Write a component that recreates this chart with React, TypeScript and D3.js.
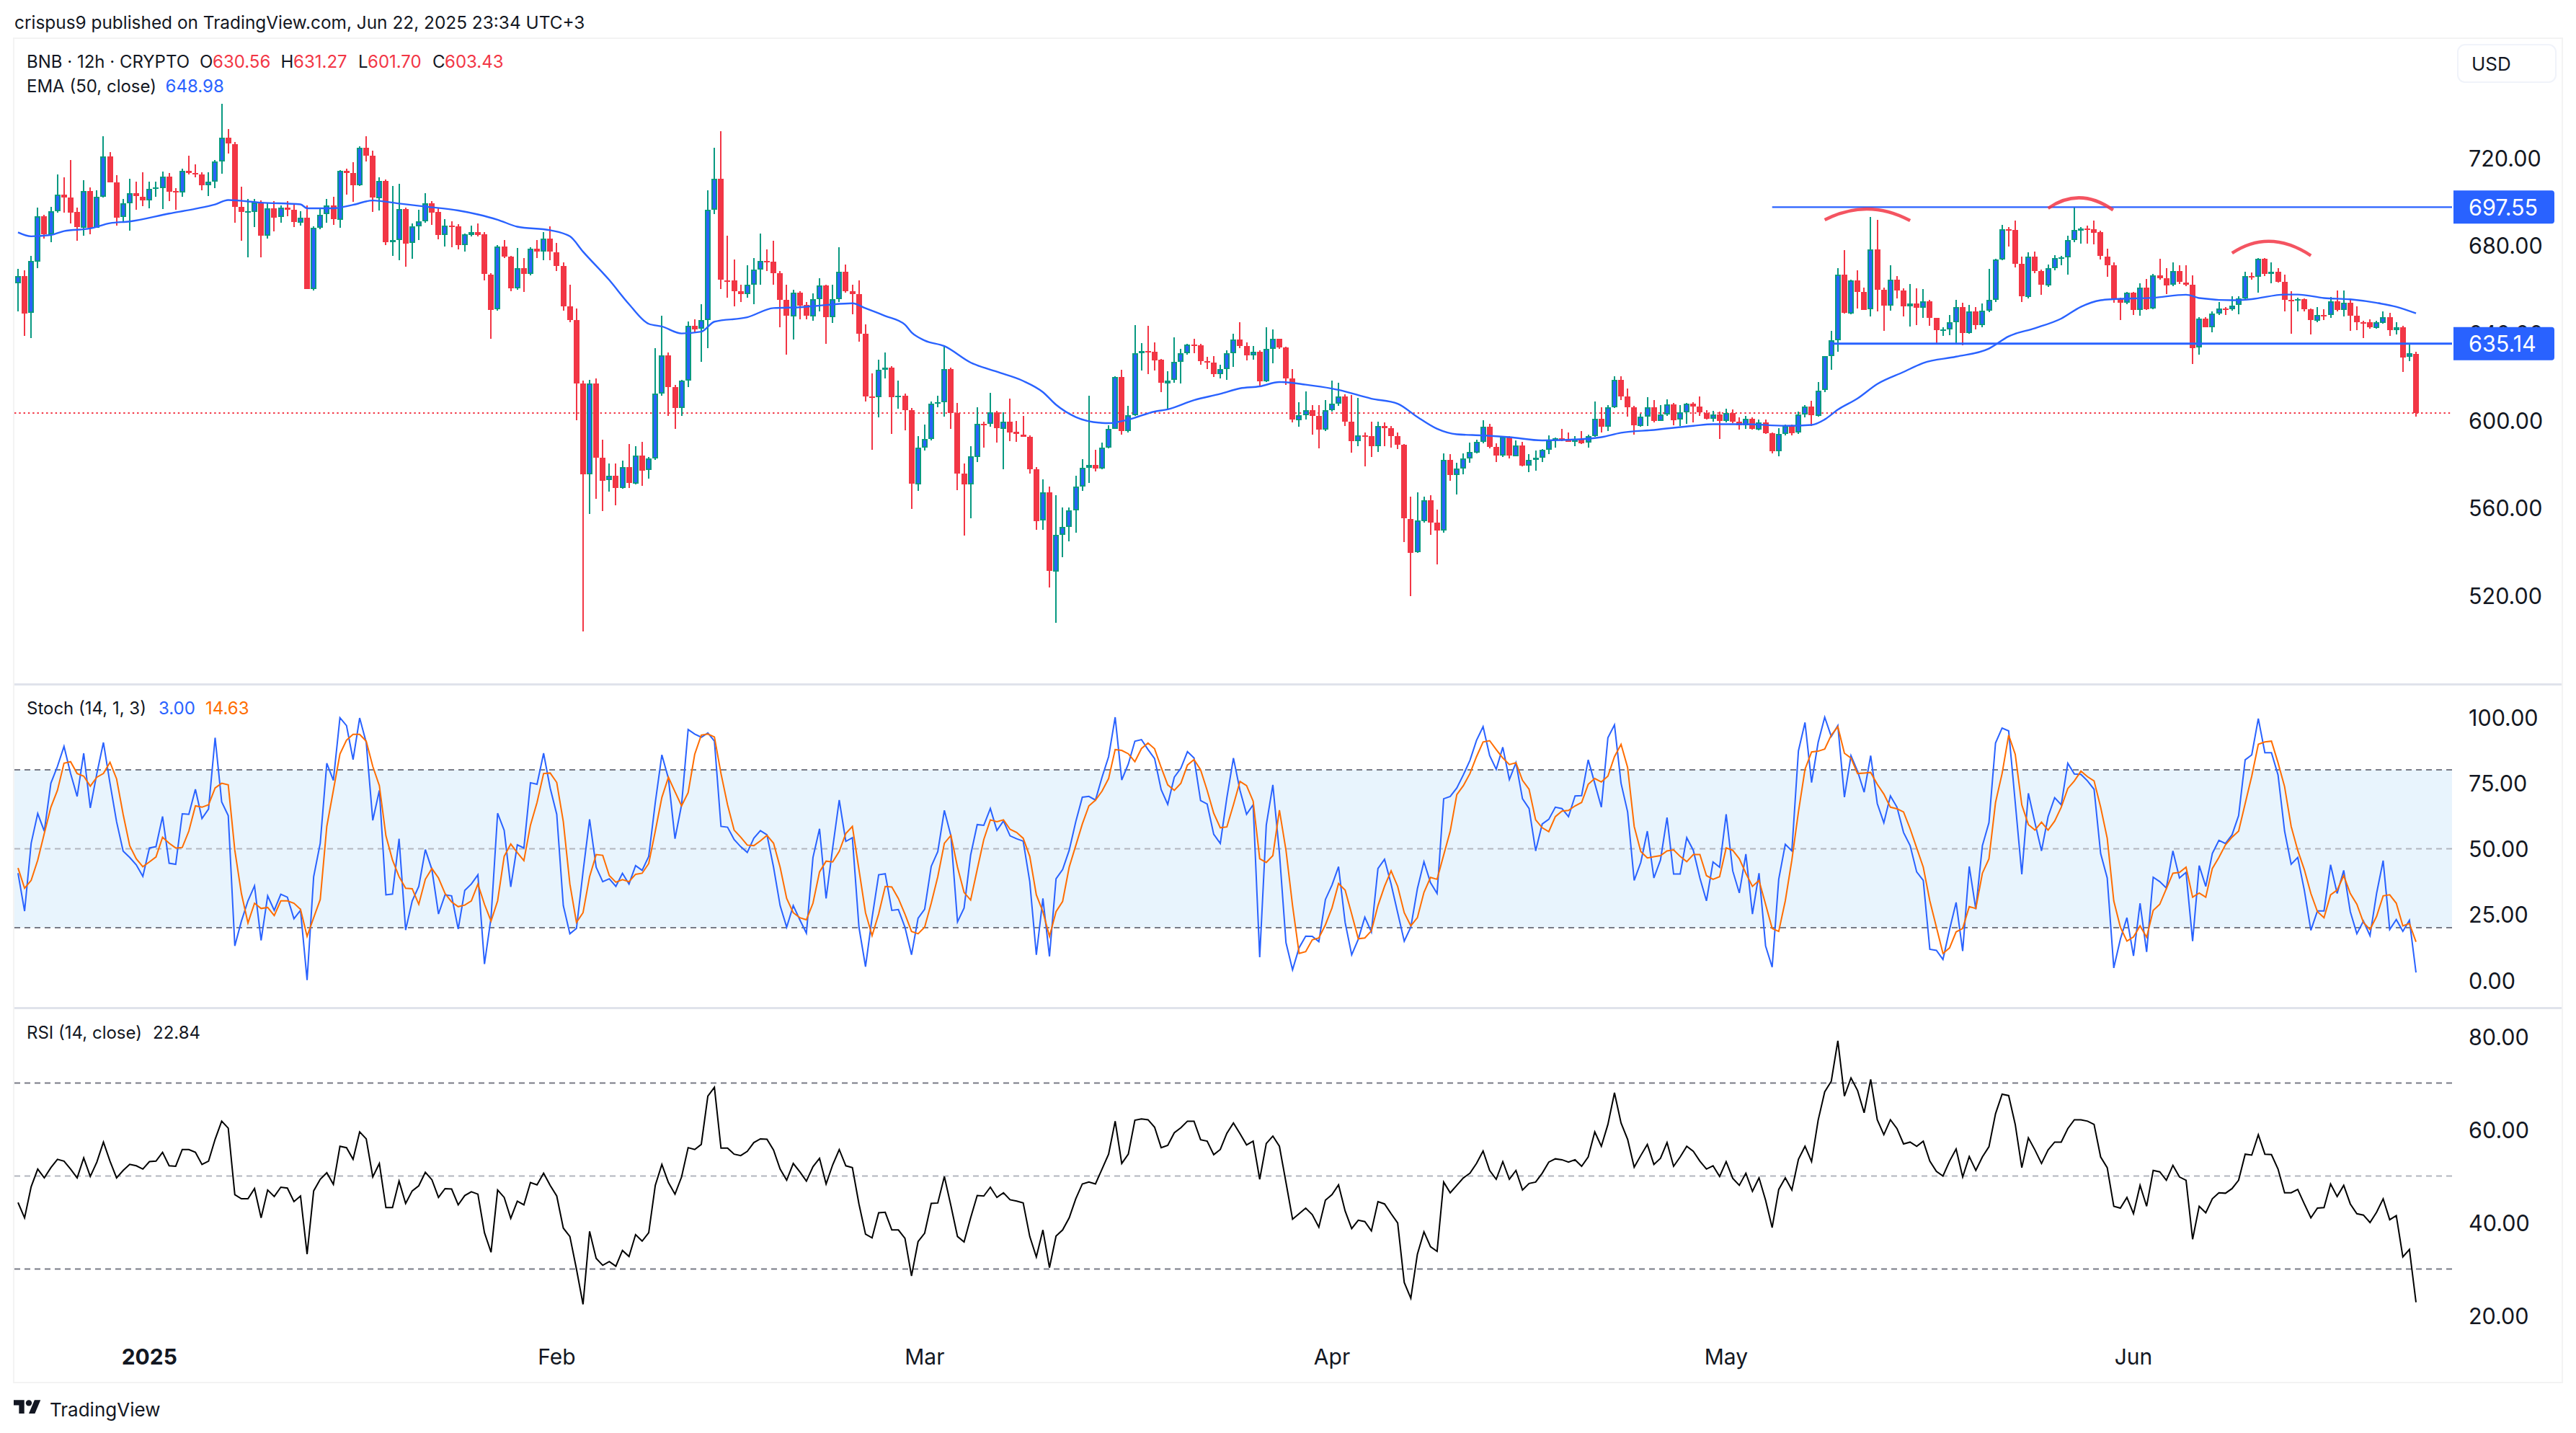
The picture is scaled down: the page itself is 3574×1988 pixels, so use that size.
import React from "react";
import * as d3 from "d3";

const open0 = 662.6;
const closes = [
666.0,649.0,672.8,693.4,685.2,695.8,703.4,702.0,695.2,688.2,
705.0,688.2,702.4,720.8,709.0,692.8,699.2,703.8,702.4,700.6,
705.8,706.4,711.6,704.8,704.4,714.2,713.2,712.6,707.6,709.2,
718.4,729.2,726.4,697.6,695.4,695.6,699.8,684.6,697.0,692.8,
697.2,696.2,690.6,692.8,660.2,688.2,694.2,698.2,691.8,714.2,
713.2,707.6,724.6,721.0,701.8,709.6,681.6,682.6,696.8,681.0,
688.6,691.0,699.4,695.2,684.6,689.0,688.9,680.2,685.0,686.2,
685.0,666.8,650.6,679.4,674.8,660.4,669.6,667.0,678.4,677.0,
683.0,677.0,670.8,652.2,646.0,617.0,575.4,617.0,583.0,572.6,
574.6,569.0,578.6,571.2,584.0,577.2,582.6,612.2,629.8,615.2,
605.8,618.2,643.4,641.8,645.8,696.2,710.4,664.2,664.0,659.2,
658.0,662.2,669.0,673.0,672.6,667.2,655.0,647.8,658.6,652.8,
647.8,655.6,661.8,647.2,655.6,668.0,659.2,657.8,639.6,610.9,
610.5,623.1,624.1,610.5,611.2,604.6,571.0,587.7,591.5,607.7,
608.3,623.5,603.3,575.7,570.7,583.6,598.6,598.3,603.6,596.2,
599.6,594.7,593.7,592.7,577.8,554.2,567.2,531.2,547.9,551.4,
558.9,569.9,578.4,579.8,578.3,587.7,596.2,619.9,595.1,602.4,
630.8,631.7,631.5,627.7,617.1,618.4,626.8,630.8,634.7,634.5,
627.3,626.5,621.3,623.5,630.8,637.1,634.0,629.8,631.5,617.9,
632.7,637.4,633.4,619.3,600.4,602.6,604.8,602.0,595.6,604.6,
607.7,611.0,599.4,590.4,593.2,593.0,588.3,597.6,596.6,592.9,
588.8,555.1,539.6,554.2,563.6,553.4,549.7,582.1,575.1,578.1,
582.6,585.5,590.4,597.2,588.0,584.0,592.5,583.8,588.7,579.4,
582.1,583.0,586.5,590.9,591.9,591.4,590.5,591.4,589.9,592.9,
600.8,597.2,606.2,618.6,611.0,606.0,597.6,601.8,606.2,599.8,
602.8,607.5,600.4,603.6,607.7,606.3,603.5,600.8,602.7,599.8,
603.5,599.5,597.9,600.8,596.1,599.3,594.2,586.1,593.9,597.6,
594.3,602.7,606.4,602.4,613.8,629.4,636.6,666.7,649.1,664.1,
658.9,650.8,678.2,659.8,652.7,664.4,659.4,652.3,653.5,651.6,
654.5,646.9,641.3,641.7,645.1,651.9,640.0,649.8,643.6,650.2,
655.0,673.6,687.3,687.1,671.6,656.7,675.0,668.3,661.9,669.7,
674.2,674.7,682.5,687.0,687.9,687.5,686.0,675.0,671.1,655.5,
653.9,658.5,650.7,660.8,651.0,666.3,665.1,661.9,668.3,663.2,
662.2,633.3,646.6,642.7,648.9,651.1,651.0,652.6,655.7,666.0,
665.8,673.9,667.0,667.9,663.3,655.0,654.9,655.4,650.8,645.7,
648.3,648.2,654.5,650.5,653.8,647.9,644.9,644.8,642.4,644.9,
647.4,641.4,642.7,628.9,630.7,603.43,
];
const highs = [
669.2,668.8,675.2,697.4,694.2,697.8,712.6,711.2,719.2,697.2,
710.0,706.6,705.2,729.8,722.6,712.2,701.2,710.6,709.2,713.6,
709.2,709.2,713.8,713.2,706.2,715.2,721.2,717.2,713.6,713.6,
719.2,744.8,733.4,727.2,706.8,701.2,701.2,700.6,699.2,700.2,
698.2,700.2,699.2,695.8,698.2,688.6,697.2,701.2,702.2,714.6,
715.2,718.2,725.2,729.8,723.2,711.2,710.2,707.2,708.2,697.2,
690.2,696.2,703.8,700.2,697.2,692.2,691.2,689.8,685.6,689.2,
690.2,686.2,667.2,680.2,682.6,675.2,678.8,674.2,679.2,682.6,
686.2,688.8,681.2,672.2,662.2,651.2,618.2,618.6,619.2,591.2,
580.2,580.2,581.6,589.2,588.2,590.2,583.2,633.2,647.8,631.2,
616.2,618.6,645.2,646.2,653.2,705.2,724.6,732.2,684.6,673.6,
662.2,671.0,674.2,685.6,678.2,682.2,668.2,662.2,659.8,659.2,
654.2,658.2,665.2,662.2,662.2,679.2,671.2,662.2,664.2,643.9,
621.4,627.8,631.2,624.8,618.4,612.2,605.8,592.9,598.3,608.8,
611.4,634.0,624.3,608.0,580.3,588.2,606.0,599.6,612.7,604.3,
603.8,610.0,599.9,602.1,593.2,578.6,573.2,569.7,566.0,560.1,
560.1,574.7,582.5,611.4,586.7,589.9,597.9,620.1,623.1,606.8,
643.6,635.4,643.3,635.6,628.2,622.6,638.1,632.7,635.2,637.4,
635.2,629.0,629.5,625.6,632.0,639.8,645.0,635.7,634.0,632.0,
642.6,641.6,637.4,633.9,623.5,608.3,613.4,607.2,607.2,609.2,
618.4,617.2,611.9,611.7,610.5,594.4,599.6,599.6,599.1,597.4,
594.6,589.2,565.2,567.2,565.2,566.0,559.3,585.1,584.5,580.6,
585.0,590.0,591.2,600.1,598.6,589.5,592.9,592.9,590.9,590.4,
584.5,586.2,587.0,593.2,592.2,596.2,594.6,592.9,595.2,593.7,
608.7,606.0,607.2,620.1,620.3,614.7,606.7,603.0,610.7,609.2,
607.0,609.7,608.0,607.2,608.2,608.3,611.0,604.6,604.5,604.2,
605.4,605.2,601.6,602.0,601.3,600.5,600.5,594.6,596.6,598.3,
598.3,604.2,606.9,609.1,617.7,629.6,641.0,669.7,678.0,664.5,
668.6,660.8,693.1,691.7,660.8,671.1,666.0,660.4,662.3,660.5,
660.1,655.1,646.9,642.7,648.3,655.0,653.9,652.7,652.0,653.5,
669.4,674.1,689.5,688.3,691.4,674.8,677.0,677.3,668.9,671.4,
675.5,675.1,684.4,697.3,688.3,689.2,691.3,686.9,678.5,672.2,
656.3,658.9,658.9,662.6,664.8,667.0,673.9,669.7,672.2,671.0,
671.1,666.3,647.2,647.2,649.8,654.2,652.0,656.7,656.9,668.0,
667.8,674.4,674.4,672.3,669.7,666.7,659.2,656.0,655.7,651.3,
652.0,651.0,656.4,659.4,659.4,655.4,652.3,645.7,646.1,645.7,
649.8,649.1,645.0,643.2,635.5,631.27,
];
const lows = [
649.8,638.8,637.6,669.8,683.2,681.6,695.2,695.2,690.2,682.2,
684.6,685.2,690.2,701.8,708.6,689.2,690.2,686.8,696.2,698.2,
697.0,702.2,696.8,700.2,696.2,702.2,712.6,711.2,705.2,702.6,
706.2,712.8,722.2,690.2,682.2,674.6,688.2,674.6,683.2,686.2,
690.2,693.2,688.2,689.2,660.2,659.2,687.2,690.2,689.2,688.2,
703.2,700.2,707.2,718.2,695.2,696.2,680.2,675.2,673.2,670.2,
674.2,682.2,690.2,689.2,682.6,679.8,679.2,678.2,677.2,684.2,
684.2,664.2,637.2,650.2,674.2,659.2,659.8,658.6,666.2,674.2,
673.2,673.2,668.2,650.2,645.2,600.2,503.6,557.2,564.2,558.6,
567.2,561.2,568.6,569.2,570.6,570.2,573.2,582.2,611.2,602.2,
596.2,602.2,615.2,640.2,626.8,633.2,694.2,660.2,656.2,652.2,
654.2,656.2,653.2,662.2,668.2,662.2,642.6,630.2,637.2,646.2,
646.2,645.6,650.2,635.2,644.6,654.2,658.2,648.6,636.2,608.8,
586.5,601.3,619.4,593.7,605.5,595.4,559.8,567.7,586.5,590.9,
606.0,601.6,596.2,568.0,547.2,555.4,580.8,587.8,597.1,589.9,
577.8,590.4,590.4,592.4,575.6,550.0,550.0,523.7,507.7,537.4,
544.7,548.7,568.0,571.4,576.9,577.8,587.3,595.9,593.4,594.6,
602.1,622.8,621.1,622.8,613.0,605.0,617.2,616.9,630.2,630.7,
625.5,623.5,619.8,619.3,618.4,624.8,633.2,627.3,627.8,615.2,
617.6,626.1,632.9,616.4,599.1,597.1,600.4,593.7,587.5,594.9,
604.3,606.7,597.4,585.2,588.5,578.9,583.6,585.8,588.3,587.5,
587.0,544.5,519.8,539.5,553.4,547.9,534.1,548.7,572.4,566.2,
575.6,580.8,585.1,589.5,587.3,580.8,583.5,582.8,583.5,579.1,
576.1,576.9,581.1,584.5,587.5,590.7,590.4,588.2,589.2,587.8,
592.5,594.6,595.4,605.5,609.3,602.0,593.4,597.1,597.6,599.1,
599.6,602.1,597.9,597.6,598.8,599.1,602.1,600.4,599.5,591.7,
599.1,599.1,596.1,596.1,595.7,595.7,593.9,585.1,583.6,593.2,
593.2,593.9,601.3,597.6,602.0,613.0,623.3,631.4,649.1,648.6,
651.3,650.5,647.6,649.8,641.0,650.5,655.7,647.6,642.7,643.6,
646.9,643.2,635.4,638.8,639.1,635.1,634.4,639.5,641.7,642.7,
649.5,654.2,673.3,679.5,670.1,654.2,656.0,667.5,657.5,661.3,
668.6,670.7,666.7,681.4,680.7,681.0,680.4,673.6,665.7,653.9,
646.1,653.2,648.3,647.9,650.5,650.8,664.2,657.7,661.3,662.3,
661.6,625.8,630.0,642.5,640.2,648.3,648.3,650.2,648.5,655.0,
664.5,658.6,666.3,662.6,663.0,649.8,639.8,649.8,649.8,639.5,
645.2,646.1,646.9,649.8,647.6,641.0,641.4,637.7,641.7,642.2,
644.2,638.5,639.5,622.2,627.4,601.70,
];
const opens = closes.map((c, i) => (i === 0 ? open0 : i === 365 ? 630.56 : closes[i - 1]));

const emaIdx = [0,2,5,7,11,14,17,23,27,30,32,37,43,44,48,51,54,58,62,67,70,73,76,81,84,86,90,93,96,98,101,104,106,111,115,119,123,127,129,132,135,136,138,141,145,149,153,156,158,161,165,166,169,173,175,179,183,186,189,192,196,200,201,206,210,213,216,219,223,227,232,238,241,244,249,255,258,263,269,273,275,277,280,283,287,290,295,300,303,307,311,314,317,319,325,330,332,337,340,345,347,351,355,359,362,365];
const emaVal = [686.0,684.2,684.8,686.6,687.8,690.2,691.0,694.6,696.8,698.8,700.8,699.6,698.8,697.0,697.0,698.6,700.6,699.2,697.8,696.0,694.2,691.8,688.6,687.0,684.2,677.2,664.2,653.2,644.2,643.0,639.8,640.6,645.2,647.2,651.4,651.8,652.8,653.6,651.3,647.8,643.8,640.3,636.6,634.0,626.5,622.3,618.1,613.0,607.2,601.6,598.9,598.8,600.4,604.1,605.1,609.3,612.2,614.7,615.6,617.6,616.4,614.6,614.0,610.0,607.7,601.6,596.2,593.7,593.2,592.4,590.9,591.5,592.4,594.4,595.7,597.6,598.3,598.3,597.6,598.0,600.5,605.0,610.1,616.7,622.2,626.3,629.2,632.9,638.5,642.2,646.6,652.0,655.0,655.5,656.1,657.5,656.0,655.0,655.5,657.6,657.6,656.0,655.4,653.8,652.0,648.98];

const stochK = [
40.7,26.3,52.1,63.4,56.7,74.9,81.3,88.9,78.6,69.9,
86.3,65.5,78.6,90.4,74.9,60.3,49.1,46.7,43.9,39.5,
50.3,50.8,62.3,44.5,44.1,63.3,63.1,72.6,61.5,65.1,
92.2,67.8,62.6,13.1,22.5,30.2,35.9,15.2,32.1,26.6,
32.7,31.6,23.4,26.6,0.1,39.4,52.1,82.5,76.0,99.8,
96.8,83.9,99.7,90.4,60.8,72.2,32.5,32.8,53.8,19.1,
30.2,35.7,49.7,42.1,25.2,32.5,32.1,19.5,34.2,36.6,
40.1,6.2,23.8,63.5,57.0,35.5,51.5,50.3,75.1,74.5,
86.3,73.1,63.1,28.4,17.7,19.7,41.2,61.2,43.0,37.5,
38.6,35.7,40.7,36.6,43.6,41.8,47.1,67.6,85.7,76.7,
53.8,66.7,95.3,93.6,92.4,94.0,90.9,58.5,58.2,53.5,
50.8,48.6,54.0,56.9,55.3,43.0,28.4,20.2,28.4,23.0,
17.9,46.7,57.6,31.1,50.3,68.5,52.8,54.2,20.2,5.2,
23.8,40.1,40.5,26.6,26.9,20.2,9.7,23.6,27.0,43.3,
48.9,64.6,54.9,22.2,27.5,47.6,59.2,58.9,65.3,57.0,
60.6,54.9,53.8,52.9,37.5,9.7,31.1,9.1,38.6,42.1,
49.4,60.3,69.6,69.9,68.5,77.2,85.0,100.0,76.1,82.2,
90.9,91.5,87.7,84.3,72.5,66.9,77.2,80.6,86.9,84.5,
68.3,67.0,55.5,52.0,69.4,84.5,72.2,63.1,66.7,8.8,
59.0,74.3,48.5,14.3,4.0,12.4,16.8,16.7,14.7,30.7,
36.2,43.2,22.0,9.7,15.6,24.0,18.4,42.5,46.0,36.6,
25.7,14.9,20.2,34.8,45.1,37.1,33.0,69.0,69.9,73.1,
78.1,83.6,91.2,96.4,85.4,80.2,88.6,76.3,82.7,69.0,
65.3,49.2,59.4,61.2,65.8,65.3,62.2,70.1,70.2,83.8,
74.9,65.8,92.2,97.1,74.9,64.0,38.0,44.8,56.7,38.9,
45.7,61.9,40.4,40.4,54.2,49.4,38.9,30.2,45.0,43.0,
63.1,41.6,33.2,48.0,25.2,40.7,13.1,5.0,38.4,51.7,
49.2,87.2,98.0,75.2,90.4,100.0,92.7,96.8,69.6,85.4,
79.5,71.5,85.4,67.2,59.9,70.1,65.8,56.2,51.2,41.2,
38.0,11.8,11.4,7.9,19.3,29.6,11.1,43.3,27.0,51.2,
59.9,90.2,95.9,94.8,67.6,40.3,71.1,59.9,49.2,62.2,
69.4,66.7,82.5,78.4,78.3,75.8,72.6,48.2,38.9,4.7,
15.6,23.8,9.3,29.3,10.8,39.2,37.5,35.1,49.2,38.9,
41.0,14.9,43.6,35.7,48.2,53.2,52.0,55.3,62.6,83.8,
85.7,99.5,86.5,86.5,78.1,56.7,44.1,46.7,34.3,19.0,
26.4,26.4,43.9,33.0,41.8,26.1,17.7,22.5,17.0,33.0,
45.5,19.3,23.1,18.6,22.8,3.0,
];
const stochD = [
42.7,35.0,38.0,45.7,55.8,65.8,72.2,82.5,83.1,78.6,
77.6,73.8,77.2,78.6,82.9,76.6,63.1,51.2,46.2,43.2,
45.0,46.9,54.4,52.1,50.3,50.5,56.7,66.3,65.8,66.7,
73.1,74.9,74.3,49.4,33.0,21.8,29.3,27.3,27.7,24.6,
30.2,30.2,29.3,27.0,16.7,23.8,30.7,58.5,72.2,86.0,
91.3,93.5,93.5,90.9,81.3,74.0,54.9,45.7,39.4,35.0,
34.8,28.9,38.4,42.5,38.9,33.0,29.8,28.0,28.6,30.2,
36.6,28.9,22.5,30.2,47.1,51.8,48.5,45.5,59.0,67.6,
78.6,78.8,75.2,60.3,36.6,22.0,25.7,39.4,47.8,47.5,
39.8,37.3,38.3,37.5,40.3,40.7,44.4,56.7,69.5,77.2,
71.7,66.3,71.3,85.9,93.2,93.6,92.5,78.6,66.7,57.1,
54.4,51.4,51.2,53.0,55.1,52.1,43.0,31.1,25.7,23.8,
23.0,29.3,41.2,45.3,45.0,49.0,55.8,58.5,42.1,25.7,
17.0,25.2,35.7,35.5,31.1,25.2,18.6,17.7,20.2,29.3,
39.4,52.1,55.1,43.0,33.4,30.5,42.1,53.5,61.0,60.3,
61.0,57.4,56.2,54.0,47.1,32.5,26.1,16.7,26.1,30.0,
43.0,51.2,59.4,66.3,68.5,71.9,76.7,87.7,87.4,86.1,
83.1,88.1,90.2,88.0,80.9,74.3,72.2,74.9,81.8,83.9,
80.0,72.2,63.5,58.0,58.3,66.7,75.6,74.0,68.1,46.2,
44.8,47.4,64.7,49.4,28.4,10.2,10.9,15.4,16.1,21.1,
27.5,36.8,34.3,25.2,15.8,16.1,18.8,28.4,35.7,41.6,
35.7,25.7,20.7,23.8,33.4,39.1,38.4,47.6,56.7,70.6,
74.0,78.6,85.0,90.6,91.1,87.7,84.5,82.0,82.7,76.0,
72.6,61.0,58.0,56.5,62.2,64.3,64.6,66.3,67.6,74.5,
76.7,75.4,77.6,85.0,89.7,80.9,58.5,49.0,46.5,47.0,
47.4,49.2,49.6,47.1,45.1,47.8,47.8,39.8,38.4,39.4,
50.3,49.4,46.2,40.7,35.7,38.0,28.9,19.7,18.6,30.2,
45.7,64.0,80.2,86.8,87.1,87.9,93.2,96.4,86.3,84.5,
78.6,78.8,79.0,74.5,70.8,65.8,65.2,64.0,57.6,50.3,
43.0,30.2,20.2,10.2,12.3,18.4,19.7,28.0,27.3,40.7,
46.2,67.6,78.6,93.2,85.9,66.7,59.2,57.1,60.1,57.1,
60.5,65.8,72.9,75.8,79.5,77.4,75.8,65.8,54.0,30.2,
20.2,14.9,16.5,20.7,16.4,26.6,28.9,34.8,40.7,41.0,
43.0,31.6,33.2,31.6,42.5,46.7,51.5,54.4,56.7,67.2,
77.6,89.7,90.6,90.9,82.7,73.6,58.5,49.4,42.1,33.0,
26.1,23.8,32.5,34.3,39.8,33.0,28.9,22.0,19.3,24.3,
32.1,32.5,29.3,20.7,21.6,14.63,
];
const rsi = [
44.3,41.0,47.7,51.5,49.6,51.8,53.6,53.2,51.5,49.6,
53.9,49.9,53.0,57.3,53.2,49.6,51.2,52.5,52.2,51.5,
53.1,53.2,55.1,52.2,52.1,55.7,55.7,55.1,52.5,53.2,
57.9,61.8,60.3,46.0,45.1,45.1,47.3,41.0,47.0,45.6,
47.6,47.4,44.5,45.7,33.2,46.8,49.3,50.7,48.2,56.4,
56.1,53.6,59.5,58.0,49.8,52.7,43.2,43.2,48.9,44.1,
46.8,47.9,50.8,49.2,45.4,47.3,47.2,43.8,45.8,46.6,
46.1,37.8,33.6,47.0,45.4,40.9,44.6,43.8,48.6,48.1,
50.6,48.0,45.7,38.8,37.0,30.0,22.4,38.1,32.3,30.8,
31.6,30.6,34.0,32.7,37.4,36.0,37.8,48.0,52.5,48.6,
46.1,49.8,56.1,55.7,56.8,67.2,69.1,56.0,56.0,54.7,
54.4,55.3,57.2,58.0,57.9,55.6,51.5,49.1,52.7,50.9,
48.9,52.0,53.8,48.3,52.4,55.7,52.2,51.8,44.0,37.5,
36.7,42.1,42.2,38.4,38.4,36.6,28.5,35.9,37.7,44.1,
44.2,49.9,43.6,37.0,35.8,41.0,45.8,45.7,47.6,45.4,
46.4,44.9,44.6,44.2,37.0,32.6,38.4,30.3,37.1,38.4,
41.0,45.1,48.3,48.7,48.3,51.5,54.7,61.8,52.7,54.7,
62.0,62.3,62.1,60.5,56.1,56.6,59.3,60.4,61.8,61.8,
57.8,57.5,54.6,55.7,59.2,61.4,59.1,56.7,57.5,49.3,
57.0,58.6,56.4,48.6,40.7,41.9,43.1,41.7,39.0,44.8,
46.0,48.1,42.5,38.7,40.5,40.2,38.2,44.5,44.0,41.9,
39.9,27.1,23.7,33.2,38.0,34.8,33.8,48.7,46.4,48.0,
49.6,50.6,52.7,55.4,51.2,49.3,53.1,49.3,51.2,47.0,
48.4,48.7,50.6,53.0,53.7,53.5,53.0,53.5,52.1,54.1,
59.5,56.4,61.1,67.9,61.4,57.9,51.9,54.4,56.8,52.5,
53.8,57.2,52.1,54.1,56.4,55.3,53.2,51.5,52.2,49.9,
53.1,49.5,48.0,50.6,46.7,49.6,44.8,38.9,47.1,49.6,
47.0,53.6,56.4,53.1,62.0,68.1,70.4,79.1,67.2,71.1,
68.4,63.6,70.8,62.1,58.9,62.1,60.2,56.9,57.3,56.4,
57.5,53.2,51.0,50.0,53.2,55.8,49.8,54.2,51.2,54.1,
56.3,63.4,67.6,67.3,61.1,51.8,58.2,55.6,52.7,55.6,
57.3,57.3,60.2,62.1,62.1,61.8,61.1,54.1,51.8,43.5,
43.1,45.4,41.9,48.0,43.5,51.2,50.9,49.1,52.3,49.8,
49.1,36.4,43.5,42.1,45.1,46.4,46.3,47.3,49.1,54.7,
54.5,58.9,54.7,54.6,51.5,46.4,46.4,47.1,44.0,41.0,
43.1,43.2,48.3,45.6,48.0,44.0,41.9,41.6,40.0,42.2,
45.1,40.6,41.5,32.6,34.2,22.84,
];

const priceTicks = [720, 680, 640, 600, 560, 520];
const stochTicks = [100, 75, 50, 25, 0];
const rsiTicks = [80, 60, 40, 20];
const stochBands = [80, 50, 20];
const rsiBands = [70, 50, 30];
const monthLabels = ["2025", "Feb", "Mar", "Apr", "May", "Jun"];
const monthIdx = [20, 82, 138, 200, 260, 322];
const resistance = 697.55;
const support = 635.14;
const lastClose = 603.43;
const resistanceStart = 267;
const supportStart = 276;
const arcs = [
  [[275, 691.7], [281.5, 696.7], [288, 691.4]],
  [[309, 697.0], [313.8, 701.8], [318.9, 696.2]],
  [[337, 676.5], [342.7, 681.9], [349, 675.4]],
];

const BLUE = "#2962FF";
const GREEN = "#089981";
const RED = "#F23645";
const ORANGE = "#FF6D00";
const INK = "#131722";
const BORDER = "#F0F3FA";
const FONT = "Inter, 'Noto Sans', sans-serif";

const x = d3.scaleLinear().domain([0, 365]).range([25, 3352]);
const yP = d3.scaleLinear().domain([520, 720]).range([826.2, 219.2]);
const yS = d3.scaleLinear().domain([0, 100]).range([1360, 995]);
const yR = d3.scaleLinear().domain([20, 80]).range([1825, 1438]);

const L = 20, R = 3402, R2 = 3554;
const AX = 3425;

function seriesPath(vals: number[], y: d3.ScaleLinear<number, number>) {
  return d3.line<number>().x((_, i) => x(i)).y((d) => y(d))(vals) as string;
}

function Txt(p: any) {
  const { size = 24, fill = INK, weight = 400, anchor = "start", ...rest } = p;
  return (
    <text fontFamily={FONT} fontSize={size} fill={fill} fontWeight={weight} textAnchor={anchor} dominantBaseline="central" {...rest} />
  );
}

function Candle({ i }: { i: number }) {
  const cx = Math.round(x(i));
  const o = yP(opens[i]), c = yP(closes[i]), h = yP(highs[i]), l = yP(lows[i]);
  const up = closes[i] >= opens[i];
  const top = Math.round(Math.min(o, c));
  const ht = Math.max(2, Math.round(Math.abs(o - c)));
  const col = up ? GREEN : RED;
  return (
    <g shapeRendering="crispEdges">
      <rect x={cx - 1} y={Math.round(h)} width={2} height={Math.max(1, Math.round(l - h))} fill={col} />
      <rect x={cx - 4} y={top} width={8} height={ht} fill={col} />
      {up && ht > 4 && <rect x={cx - 2} y={top + 2} width={4} height={ht - 4} fill={BLUE} />}
    </g>
  );
}

function Dashed({ y, color }: { y: number; color: string }) {
  return <line x1={L} x2={R} y1={y} y2={y} stroke={color} strokeWidth={2} strokeDasharray="8 6" />;
}

export default function App() {
  const emaLine = d3.line<number>().x((d) => x(d)).y((_, i) => yP(emaVal[i])).curve(d3.curveMonotoneX)(emaIdx) as string;
  const arcPath = (a: number[][]) => {
    const [p0, p1, p2] = a.map(([i, v]) => [x(i), yP(v)]);
    const cy = 2 * p1[1] - (p0[1] + p2[1]) / 2;
    return `M${p0[0]},${p0[1]}Q${p1[0]},${cy} ${p2[0]},${p2[1]}`;
  };
  return (
    <svg width={3574} height={1988} viewBox="0 0 3574 1988" style={{ position: "absolute", left: 0, top: 0, background: "#fff" }}>
      <rect width={3574} height={1988} fill="#fff" />
      <Txt x={20} y={31} size={24.4}>crispus9 published on TradingView.com, Jun 22, 2025 23:34 UTC+3</Txt>

      {/* frames */}
      <rect x={L - 1} y={53} width={R2 - L + 2} height={1865} fill="none" stroke="#F3F3F3" strokeWidth={2} />
      <line x1={L} x2={R2} y1={949.5} y2={949.5} stroke="#E0E3EB" strokeWidth={3} />
      <line x1={L} x2={R2} y1={1398.5} y2={1398.5} stroke="#E0E3EB" strokeWidth={3} />

      {/* stochastic band */}
      <rect x={L} y={yS(80)} width={R - L} height={yS(20) - yS(80)} fill="#E8F4FD" />
      {stochBands.map((b) => <Dashed key={b} y={yS(b)} color={b === 50 ? "#B2B5BE" : "#787B86"} />)}
      {rsiBands.map((b) => <Dashed key={b} y={yR(b)} color={b === 50 ? "#B2B5BE" : "#787B86"} />)}

      {/* price */}
      <line x1={L} x2={R} y1={yP(lastClose)} y2={yP(lastClose)} stroke={RED} strokeWidth={2} strokeDasharray="2.4 3.9" />
      {closes.map((_, i) => <Candle key={i} i={i} />)}
      <path d={emaLine} fill="none" stroke={BLUE} strokeWidth={2.4} />
      <line x1={x(resistanceStart)} x2={R} y1={yP(resistance)} y2={yP(resistance)} stroke={BLUE} strokeWidth={2.4} />
      <line x1={x(supportStart)} x2={R} y1={yP(support)} y2={yP(support)} stroke={BLUE} strokeWidth={2.8} />
      {arcs.map((a, i) => <path key={i} d={arcPath(a)} fill="none" stroke={RED} strokeOpacity={0.85} strokeWidth={4.5} />)}

      {/* indicators */}
      <path d={seriesPath(stochK, yS)} fill="none" stroke={BLUE} strokeWidth={2} />
      <path d={seriesPath(stochD, yS)} fill="none" stroke={ORANGE} strokeWidth={2} />
      <path d={seriesPath(rsi, yR)} fill="none" stroke="#000" strokeWidth={2} />

      {/* legends */}
      <Txt x={37} y={85}>BNB · 12h · CRYPTO</Txt>
      <Txt x={277} y={85}>O</Txt><Txt x={295} y={85} fill={RED}>630.56</Txt>
      <Txt x={389.5} y={85}>H</Txt><Txt x={407} y={85} fill={RED}>631.27</Txt>
      <Txt x={497} y={85}>L</Txt><Txt x={510} y={85} fill={RED}>601.70</Txt>
      <Txt x={600} y={85}>C</Txt><Txt x={617} y={85} fill={RED}>603.43</Txt>
      <Txt x={37} y={119}>EMA (50, close)</Txt><Txt x={229.6} y={119} fill={BLUE}>648.98</Txt>
      <Txt x={37} y={982}>Stoch (14, 1, 3)</Txt><Txt x={220} y={982} fill={BLUE}>3.00</Txt><Txt x={285} y={982} fill={ORANGE}>14.63</Txt>
      <Txt x={37} y={1432}>RSI (14, close)</Txt><Txt x={212} y={1432}>22.84</Txt>

      {/* axis labels */}
      {priceTicks.map((t) => <Txt key={t} x={AX} y={yP(t)} size={30.5}>{t.toFixed(2)}</Txt>)}
      {stochTicks.map((t) => <Txt key={t} x={AX} y={yS(t)} size={30.5}>{t.toFixed(2)}</Txt>)}
      {rsiTicks.map((t) => <Txt key={t} x={AX} y={yR(t)} size={30.5}>{t.toFixed(2)}</Txt>)}

      {[resistance, support].map((v) => {
        const yy = yP(v);
        return (
          <g key={v}>
            <path d={`M3404,${yy - 23}H3540a4,4 0 0 1 4,4V${yy + 19}a4,4 0 0 1 -4,4H3404Z`} fill={BLUE} />
            <Txt x={AX} y={yy} size={30.5} fill="#fff">{v.toFixed(2)}</Txt>
          </g>
        );
      })}

      {/* USD */}
      <rect x={3410} y={62} width={136} height={52} rx={10} fill="#fff" stroke={BORDER} strokeWidth={2} />
      <Txt x={3429} y={88} size={26}>USD</Txt>

      {/* time axis */}
      {monthLabels.map((m, i) => (
        <Txt key={m} x={x(monthIdx[i])} y={1882} size={30} anchor="middle" weight={m === "2025" ? 700 : 400}>{m}</Txt>
      ))}

      {/* logo */}
      <g transform="translate(19,1938) scale(1.05)" fill={INK}>
        <path d="M14 22H7V11H0V4h14v18zM28 22h-8l7.5-18h8L28 22z" />
        <circle cx={20} cy={8} r={4} />
      </g>
      <Txt x={69} y={1955} size={26}>TradingView</Txt>
    </svg>
  );
}
